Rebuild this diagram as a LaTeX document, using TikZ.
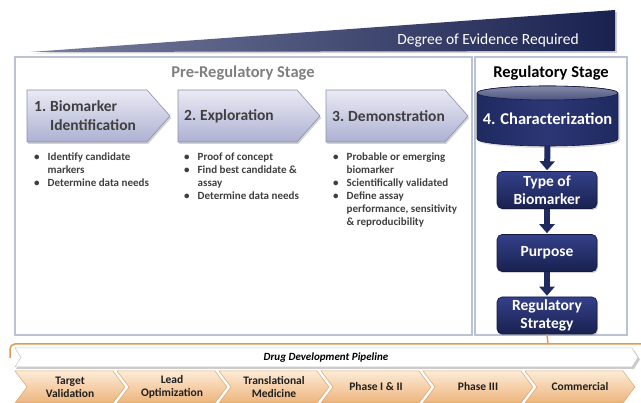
\documentclass[tikz,border=0pt]{standalone}
\usepackage{fontspec}
\setmainfont{Carlito}
\usetikzlibrary{shapes.symbols,shadows,arrows.meta}

\definecolor{navy}{HTML}{1F2A60}
\definecolor{navytop}{HTML}{34408A}
\definecolor{navybot}{HTML}{19214F}
\definecolor{navyrim}{HTML}{131A42}
\definecolor{lavtop}{HTML}{EAEAF4}
\definecolor{lavbot}{HTML}{ADB1D2}
\definecolor{lavrim}{HTML}{8A8EAE}
\definecolor{panelrim}{HTML}{B9C3D3}
\definecolor{peachtop}{HTML}{FDEBD6}
\definecolor{peachbot}{HTML}{EDB47C}
\definecolor{peachrim}{HTML}{D9A46C}
\definecolor{pipeorange}{HTML}{E39A4E}
\definecolor{bodytext}{HTML}{3F3F3F}
\definecolor{titlegray}{HTML}{7F7F7F}

\tikzset{
  panel/.style={draw=panelrim, line width=1.6pt},
  stagebox/.style={top color=lavtop, bottom color=lavbot, draw=lavrim, line width=0.6pt,
    drop shadow={shadow xshift=1.2pt, shadow yshift=-2pt, opacity=0.35}},
  stagetext/.style={anchor=west, inner sep=0pt, text=bodytext,
    font=\fontsize{15.5}{19}\selectfont\bfseries},
  bullets/.style={anchor=north west, inner sep=0pt, text=bodytext,
    font=\fontsize{11}{13}\selectfont\bfseries},
  regbox/.style={rectangle, rounded corners=5pt, minimum width=100pt,
    minimum height=37pt, inner sep=0pt, top color=navytop, bottom color=navybot,
    draw=navyrim, line width=0.6pt, text=white, align=center,
    font=\fontsize{15.5}{17.5}\selectfont\bfseries,
    drop shadow={shadow xshift=1pt, shadow yshift=-1.5pt, opacity=0.35}},
  blockarrow/.style={draw=navy, line width=6pt,
    -{Triangle[width=15pt,length=9pt]}, shorten >=1pt},
  orangeline/.style={draw=pipeorange, line width=1.5pt},
  chev/.style={shape=signal, signal from=west, signal to=east,
    signal pointer angle=106, minimum width=110pt, minimum height=32pt,
    inner sep=0pt, top color=peachtop, bottom color=peachbot,
    draw=peachrim, line width=0.5pt, align=center, text=black!88,
    font=\fontsize{11.5}{13}\selectfont\bfseries},
}

\begin{document}
\begin{tikzpicture}[x=1pt,y=-1pt]
\useasboundingbox (0,0) rectangle (641,403);

% evidence wedge across the top
\fill[gray!35] (32,53.5) -- (617,12) -- (617,53) -- cycle;
\shade[left color=navy!60!white, right color=navybot]
  (30,52) -- (615,10) -- (615,51) -- cycle;
\node[text=white, font=\fontsize{15.5}{17}\selectfont] (evidence) at (488,40)
  {Degree of Evidence Required};

% the two stage panels
\draw[panel] (15,57) rectangle (472,335);
\draw[panel] (475,57) rectangle (627,335);
\node[text=titlegray, font=\fontsize{16.5}{19}\selectfont\bfseries] (pretitle)
  at (243,73) {Pre-Regulatory Stage};
\node[text=black, font=\fontsize{16.5}{19}\selectfont\bfseries] (regtitle)
  at (551,73) {Regulatory Stage};

% pre-regulatory steps: pentagon arrows
\path[stagebox] (27,90) -- (147,90) -- (170,116) -- (147,142) -- (27,142) -- cycle;
\path[stagebox] (178,90) -- (297,90) -- (320,116) -- (297,142) -- (178,142) -- cycle;
\path[stagebox] (326,90) -- (445,90) -- (468,116) -- (445,142) -- (326,142) -- cycle;
\coordinate (s1) at (27,116);
\coordinate (s2) at (178,116);
\coordinate (s3) at (326,116);
\node[stagetext] (t1) at ([xshift=7pt,yshift=-1pt]s1)
  {\begin{tabular}{@{}l@{\hspace{4pt}}l@{}}1.&Biomarker\\&Identification\end{tabular}};
\node[stagetext] (t2) at ([xshift=6pt]s2) {2.\hspace{4pt}Exploration};
\node[stagetext] (t3) at ([xshift=6pt]s3) {3.\hspace{4pt}Demonstration};

\node[bullets] (b1) at (34,151)
  {\begin{tabular}{@{}l@{\hspace{8pt}}l@{}}
   \textbullet & Identify candidate\\
               & markers\\
   \textbullet & Determine data needs
   \end{tabular}};
\node[bullets] (b2) at (184,151)
  {\begin{tabular}{@{}l@{\hspace{8pt}}l@{}}
   \textbullet & Proof of concept\\
   \textbullet & Find best candidate \&\\
               & assay\\
   \textbullet & Determine data needs
   \end{tabular}};
\node[bullets] (b3) at (333,151)
  {\begin{tabular}{@{}l@{\hspace{8pt}}l@{}}
   \textbullet & Probable or emerging\\
               & biomarker\\
   \textbullet & Scientifically validated\\
   \textbullet & Define assay\\
               & performance, sensitivity\\
               & \& reproducibility
   \end{tabular}};

% characterization cylinder
\fill[gray!45, opacity=0.6] (479,95) -- (479,141)
  arc[start angle=180, end angle=360, x radius=70.5pt, y radius=7pt]
  -- (620,95) -- cycle;
\shade[left color=navy, right color=navy, middle color=navytop!85!black, draw=navyrim, line width=0.6pt]
  (477,93) -- (477,139)
  arc[start angle=180, end angle=360, x radius=70.5pt, y radius=7pt]
  -- (618,93) arc[start angle=0, end angle=180, x radius=70.5pt, y radius=7pt] -- cycle;
\shade[top color=navy!55!white, bottom color=navy!80!white, draw=navyrim, line width=0.6pt]
  (547.5,93) ellipse[x radius=70.5pt, y radius=7pt];
\node[minimum width=141pt, minimum height=60pt, inner sep=0pt] (char) at (547.5,116) {};
\node[text=white, font=\fontsize{16.5}{18}\selectfont\bfseries] (chartext)
  at (547.5,119) {4. Characterization};

% regulatory steps
\node[regbox] (type) at (547,190) {Type of\\Biomarker};
\node[regbox] (purpose) at (547,253) {Purpose};
\node[regbox] (strategy) at (547,315.5) {Regulatory\\Strategy};
\draw[blockarrow] (char.south) -- (type.north);
\draw[blockarrow] (type.south) -- (purpose.north);
\draw[blockarrow] (purpose.south) -- (strategy.north);

% link to the pipeline
\coordinate (tee) at (548,344);
\draw[orangeline] (strategy.south) -- (tee);
\draw[orangeline, rounded corners=5pt] (10,358) -- (10,344) -- (641,344);

% pipeline banner
\fill[gray!40] (16,350) -- (634,350) -- (640,359.5) -- (634,369) -- (16,369) -- (22,359.5) -- cycle;
\filldraw[fill=white, draw=gray!45, line width=0.5pt]
  (15,348) -- (632,348) -- (638,357.5) -- (632,367) -- (15,367) -- (21,357.5) -- cycle;
\node[font=\fontsize{11}{13}\selectfont\bfseries\itshape] (pipeline) at (326,357.5)
  {Drug Development Pipeline};

% pipeline phases
\node[chev] (p1) at (70,387)  {Target\\Validation};
\node[chev] (p2) at (172,387) {Lead\\Optimization};
\node[chev] (p3) at (274,387) {Translational\\Medicine};
\node[chev] (p4) at (376,387) {Phase I \& II};
\node[chev] (p5) at (478,387) {Phase III};
\node[chev] (p6) at (580,387) {Commercial};
\end{tikzpicture}
\end{document}
